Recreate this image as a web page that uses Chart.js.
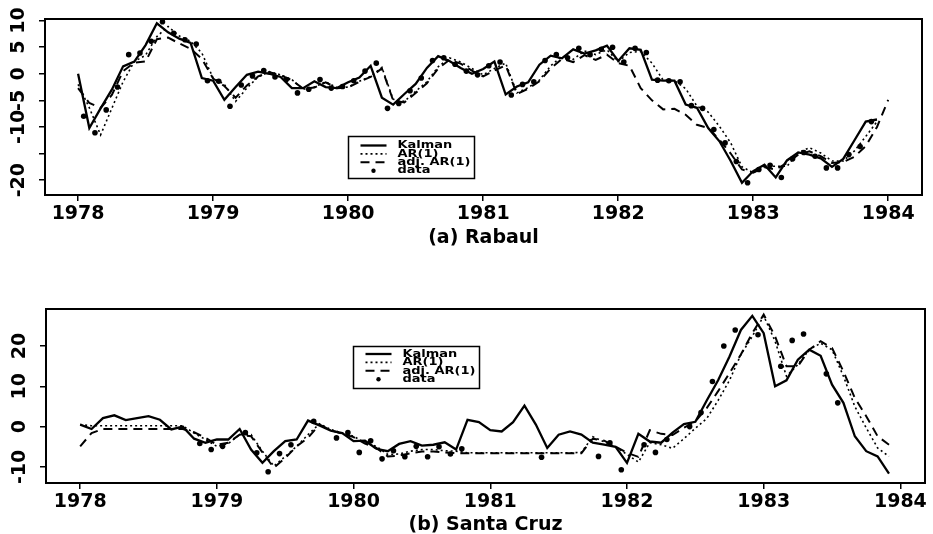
<!DOCTYPE html>
<html>
<head>
<meta charset="utf-8">
<script src="https://cdn.jsdelivr.net/npm/chart.js@4.4.1/dist/chart.umd.min.js"></script>
<style>
    html, body { margin: 0; padding: 0; background: #fff; }
    body { width: 933px; height: 534px; position: relative; overflow: hidden; }
    .panel { position: absolute; left: 0; width: 933px; }
    #rabaul-wrap { top: 0; height: 255px; }
    #cruz-wrap { top: 264px; height: 270px; }
</style>
</head>
<body>
<div class="panel" id="rabaul-wrap"><canvas id="rabaulChart"></canvas></div>
<div class="panel" id="cruz-wrap"><canvas id="cruzChart"></canvas></div>
<script>
// --- Data (monthly, Jan 1978 .. Jan 1984) ---
const startYear = 1978;
const months = [...Array(73).keys()].map(m => startYear + m / 12);
const yearTicks = [1978, 1979, 1980, 1981, 1982, 1983, 1984];
const seriesNames = ['Kalman', 'AR(1)', 'adj. AR(1)', 'data'];

// (a) Rabaul
const rabaulYTicks = [-20, -15, -10, -5, 0, 5, 10];
const rabaulYLabels = ['-20', '', '-10', '-5', '0', '5', '10'];
const rabaulKalman = [
    0, -10.2, -6.5, -3, 1.4, 2.3, 5.4, 9.5, 7.8, 6.6, 5.8, -0.8,
    -1.3, -4.9, -2.5, -0.2, 0.4, 0, -0.6, -2.7, -2.7, -1.4, -2.5, -2.7,
    -1.6, -0.7, 1.5, -4.5, -5.8, -3.8, -1.9, 1.1, 3.3, 2.4, 1.1, 0,
    0.9, 2.3, -3.9, -2.4, -1.6, 1.7, 3.4, 2.9, 4.6, 3.8, 4.4, 5.3,
    2.4, 4.8, 4.5, -1.1, -1.3, -1.3, -5.8, -6.4, -10.2, -12.7, -16.4, -20.5,
    -18.3, -17.1, -19.5, -16.3, -14.8, -15.2, -15.9, -17.5, -16, -12.5, -9, -8.6, null
];
const rabaulAR = [
    -2, -6.4, -11.5, -6.5, -1.5, 2.3, 3.5, 7, 8.9, 7.1, 6.1, 3.9,
    -0.8, -2, -5.2, -2.7, -0.6, 0.4, -0.2, -1.1, -2.9, -2.5, -1.5, -2.6,
    -2.5, -1.4, -0.5, 1.2, -4.8, -5.2, -3.3, -1.5, 1.3, 3.0, 2.2, 1.0,
    -0.2, 1.0, 2.0, -3.6, -2.6, -1.2, 1.5, 3.3, 2.7, 4.3, 3.6, 4.5,
    2.3, 4.0, 4.2, 2.0, -1.2, -1.3, -2.8, -6.1, -7.2, -9.9, -13, -17.5,
    -18.6, -17.4, -17.4, -17.4, -14.8, -13.9, -14.9, -16.4, -16.4, -14.5, -11.8, -9, null
];
const rabaulAdjAR = [
    -2.7, -5.5, -6.4, -4, 0.5, 2.1, 2.3, 6.5, 6.8, 5.7, 4.7, 2.8,
    -0.9, -2.3, -4.5, -2.2, -0.5, 0.3, -0.3, -1.2, -2.8, -2.6, -1.6, -2.7,
    -2.6, -1.5, -0.6, 1.0, -5.0, -5.4, -3.6, -1.8, 1.0, 2.6, 1.9, 0.6,
    -0.5, 0.6, 1.6, -3.8, -2.8, -1.4, 1.0, 2.8, 2.2, 3.5, 2.6, 3.6,
    2.0, 1.5, -2.7, -5.0, -6.7, -6.6, -7.7, -9.6, -10.2, -12.4, -15.0, -18.0,
    -18.6, -17.6, -18.0, -16.8, -15.2, -14.6, -15.5, -16.8, -16.6, -15.6, -13.6, -10, -4.9
];
// observations sit at mid-month
const rabaulObs = [
    -8, -11.1, -6.8, -2.5, 3.6, 3.9, 6.1, 9.8, 7.6, 6.4, 5.6, -1.3,
    -1.4, -6.1, -2.1, -0.4, 0.6, -0.6, -1.1, -3.6, -2.9, -1.1, -2.7, -2.4,
    -1.3, 0.5, 2.0, -6.5, -5.6, -3.2, -0.8, 2.5, 3.0, 1.8, 0.5, -0.2,
    1.5, 2.2, -4.0, -2.0, -1.5, 2.5, 3.6, 3.0, 4.8, 3.6, 4.6, 5.0,
    2.2, 4.8, 4.0, -1.2, -1.3, -1.5, -6.0, -6.5, -10.5, -13, -16.5, -20.5,
    -18.0, -17.2, -19.5, -16.0, -14.8, -15.5, -17.7, -17.7, -15.2, -13.7, -9, null
];

// (b) Santa Cruz
const cruzYTicks = [-10, 0, 10, 20];
const cruzYLabels = ['-10', '0', '10', '20'];
const cruzKalman = [
    0.5, -0.6, 2.1, 2.8, 1.6, 2.1, 2.6, 1.7, -0.7, 0, -3, -4,
    -3.2, -3.2, -0.6, -5.7, -9, -6.1, -3.6, -3.2, 1.5, 0.3, -1, -1.6,
    -3.6, -3.5, -5.5, -6.1, -4.3, -3.6, -4.7, -4.5, -3.9, -5.7, 1.7, 1.1,
    -0.9, -1.2, 1.1, 5.2, 0.5, -5.3, -2, -1.2, -2, -4, -4.5, -5,
    -9, -1.8, -3.7, -4, -1.5, 0.6, 1.2, 6.5, 11.5, 17.4, 24, 27.5,
    23.2, 10, 11.5, 16.6, 19.1, 17.6, 10.4, 5.9, -2.4, -6.1, -7.4, -11.7, null
];
const cruzAR = [
    0.5, 0.2, 0.2, 0.2, 0.2, 0.2, 0.2, 0.2, 0.2, 0.2, -1.6, -3.2,
    -4.9, -4.2, -2, -2, -6.1, -9.8, -7.4, -4.9, -2, 0.7, -0.7, -1.6,
    -2.4, -4, -4.9, -6.9, -6.8, -6.1, -5.7, -5.7, -6, -6.1, -6.5, -6.5,
    -6.5, -6.5, -6.5, -6.5, -6.5, -6.5, -6.5, -6.5, -6.4, -2.5, -3.8, -5.0,
    -6.9, -8.8, -4, -4.5, -5.4, -3, -0.4, 2, 6.5, 11.5, 17.9, 22.4,
    27.5, 21.2, 12.5, 15.4, 19.1, 20.7, 19.1, 12.5, 5, -0.3, -5.3, -7.4, null
];
const cruzAdjAR = [
    -4.9, -1.6, -0.6, -0.6, -0.6, -0.6, -0.6, -0.6, -0.6, -0.6, -1.4, -2.8,
    -4.5, -4, -2, -2.4, -6.4, -10.2, -7.8, -4.9, -2.8, 0.5, -0.9, -1.8,
    -2.6, -4.2, -5.3, -7.4, -7.2, -6.6, -6.2, -6.2, -6.4, -6.6, -6.6, -6.6,
    -6.6, -6.6, -6.6, -6.6, -6.6, -6.6, -6.6, -6.6, -6.6, -3.0, -3.5, -5.0,
    -6.5, -7.5, -0.9, -1.8, -2.1, -0.3, 1.3, 4.6, 8.8, 13.3, 17.9, 23.2,
    27.8, 22.4, 15, 15, 19.1, 21.2, 19.5, 13.7, 7.1, 2.6, -2.4, -4.5, null
];
const cruzObs = [
    null, null, null, null, null, null, null, null, null, null, -4.2, -5.7,
    -4.9, null, -1.5, -6.5, -11.2, -6.7, -4.5, null, 1.3, null, -2.8, -1.5,
    -6.4, -3.5, -8, -6, -7.5, -4.9, -7.5, -5, -6.8, -5.5, null, null,
    null, null, null, null, -7.6, null, null, null, null, -7.4, -4, -10.7,
    null, -4.5, -6.4, -3.2, null, 0, 3.5, 11.2, 20, 24, null, 22.8,
    null, 15, 21.4, 23, null, 13.1, 5.9, null, null, null, null, null
];

// --- Helpers ---
const tickFont = { family: '"DejaVu Sans"', size: 19, weight: 'bold' };

const linePoints = values => values.map((v, i) => ({ x: months[i], y: v }));
const obsPoints = values => values.map((v, i) => ({ x: startYear + (i + 0.5) / 12, y: v }));

// Plot frame plus the small boxed legend inside the plot
const boxLegend = {
    id: 'boxLegend',
    afterDraw(chart, args, opts) {
        const { ctx, chartArea: a } = chart;
        ctx.save();
        ctx.strokeStyle = '#000';
        ctx.lineWidth = 2;
        ctx.strokeRect(a.left, a.top, a.right - a.left, a.bottom - a.top);

        const bx = Math.round(a.left + opts.x * (a.right - a.left)) + 0.5;
        const by = Math.round(a.top + opts.y * (a.bottom - a.top)) + 0.5;
        ctx.lineWidth = 1.5;
        ctx.strokeRect(bx, by, 126, 42);

        ctx.font = 'bold 13px "DejaVu Sans"';
        ctx.fillStyle = '#000';
        ctx.textBaseline = 'middle';
        chart.data.datasets.forEach((ds, i) => {
            const ry = by + opts.rowStart + i * 8.4;
            if (ds.showLine === false) {
                ctx.beginPath();
                ctx.arc(bx + 25, ry, 2.2, 0, Math.PI * 2);
                ctx.fill();
            } else {
                ctx.beginPath();
                ctx.setLineDash(ds.borderDash || []);
                ctx.lineWidth = ds.borderWidth;
                ctx.moveTo(bx + 12, ry);
                ctx.lineTo(bx + 38, ry);
                ctx.stroke();
                ctx.setLineDash([]);
            }
            ctx.save();
            ctx.translate(bx + 49, ry);
            ctx.scale(1, 0.8);
            ctx.fillText(ds.label, 0, 0);
            ctx.restore();
        });
        ctx.restore();
    }
};

function makeDatasets(kalman, ar, adj, obs) {
    return [
        { label: seriesNames[0], data: linePoints(kalman), borderColor: '#000', borderWidth: 2.3, pointRadius: 0 },
        { label: seriesNames[1], data: linePoints(ar), borderColor: '#000', borderWidth: 1.6, borderDash: [2, 3], pointRadius: 0 },
        { label: seriesNames[2], data: linePoints(adj), borderColor: '#000', borderWidth: 2, borderDash: [9, 6], pointRadius: 0 },
        { label: seriesNames[3], data: obsPoints(obs), showLine: false, pointRadius: 2.8, pointBackgroundColor: '#000', pointBorderWidth: 0 }
    ];
}

function makePanel(canvasId, p) {
    const axisGrid = { display: true, drawOnChartArea: false, drawTicks: true, tickLength: 6, color: '#000', lineWidth: 1.5 };
    const axisBorder = { display: true, color: '#000', width: 2 };
    return new Chart(document.getElementById(canvasId), {
        type: 'line',
        data: { datasets: makeDatasets(p.kalman, p.ar, p.adj, p.obs) },
        options: {
            responsive: true,
            maintainAspectRatio: false,
            animation: false,
            layout: { padding: p.padding },
            plugins: {
                legend: { display: false },
                tooltip: { enabled: false },
                boxLegend: p.legendAt
            },
            scales: {
                x: {
                    type: 'linear',
                    min: p.xMin,
                    max: p.xMax,
                    afterBuildTicks: s => { s.ticks = yearTicks.map(v => ({ value: v })); },
                    afterFit: s => { s.height = p.xAxisHeight; },
                    grid: axisGrid,
                    border: axisBorder,
                    ticks: { autoSkip: false, minRotation: 0, maxRotation: 0, padding: 2, color: '#000', font: tickFont,
                             callback: v => String(v) },
                    title: { display: true, text: p.title, color: '#000', font: tickFont, padding: { top: 0, bottom: p.titlePad } }
                },
                y: {
                    min: p.yMin,
                    max: p.yMax,
                    afterBuildTicks: s => { s.ticks = p.yTicks.map(v => ({ value: v })); },
                    afterFit: s => { s.width = p.yAxisWidth; },
                    grid: axisGrid,
                    border: axisBorder,
                    ticks: { autoSkip: false, minRotation: 90, maxRotation: 90, crossAlign: 'center', padding: 3,
                             color: '#000', font: tickFont, callback: (v, i) => p.yLabels[i] }
                }
            }
        },
        plugins: [boxLegend]
    });
}

makePanel('rabaulChart', {
    kalman: rabaulKalman, ar: rabaulAR, adj: rabaulAdjAR, obs: rabaulObs,
    title: '(a) Rabaul',
    xMin: 1977.755, xMax: 1984.25, yMin: -22.8, yMax: 10.3,
    yTicks: rabaulYTicks, yLabels: rabaulYLabels,
    padding: { top: 19, right: 11, left: 0, bottom: 0 },
    yAxisWidth: 45, xAxisHeight: 60, titlePad: 6,
    legendAt: { x: 0.345, y: 0.665, rowStart: 9 }
});

makePanel('cruzChart', {
    kalman: cruzKalman, ar: cruzAR, adj: cruzAdjAR, obs: cruzObs,
    title: '(b) Santa Cruz',
    xMin: 1977.75, xMax: 1984.18, yMin: -14, yMax: 29.2,
    yTicks: cruzYTicks, yLabels: cruzYLabels,
    padding: { top: 45, right: 8, left: 0, bottom: 0 },
    yAxisWidth: 46, xAxisHeight: 51, titlePad: -2,
    legendAt: { x: 0.349, y: 0.213, rowStart: 7.5 }
});
</script>
</body>
</html>
